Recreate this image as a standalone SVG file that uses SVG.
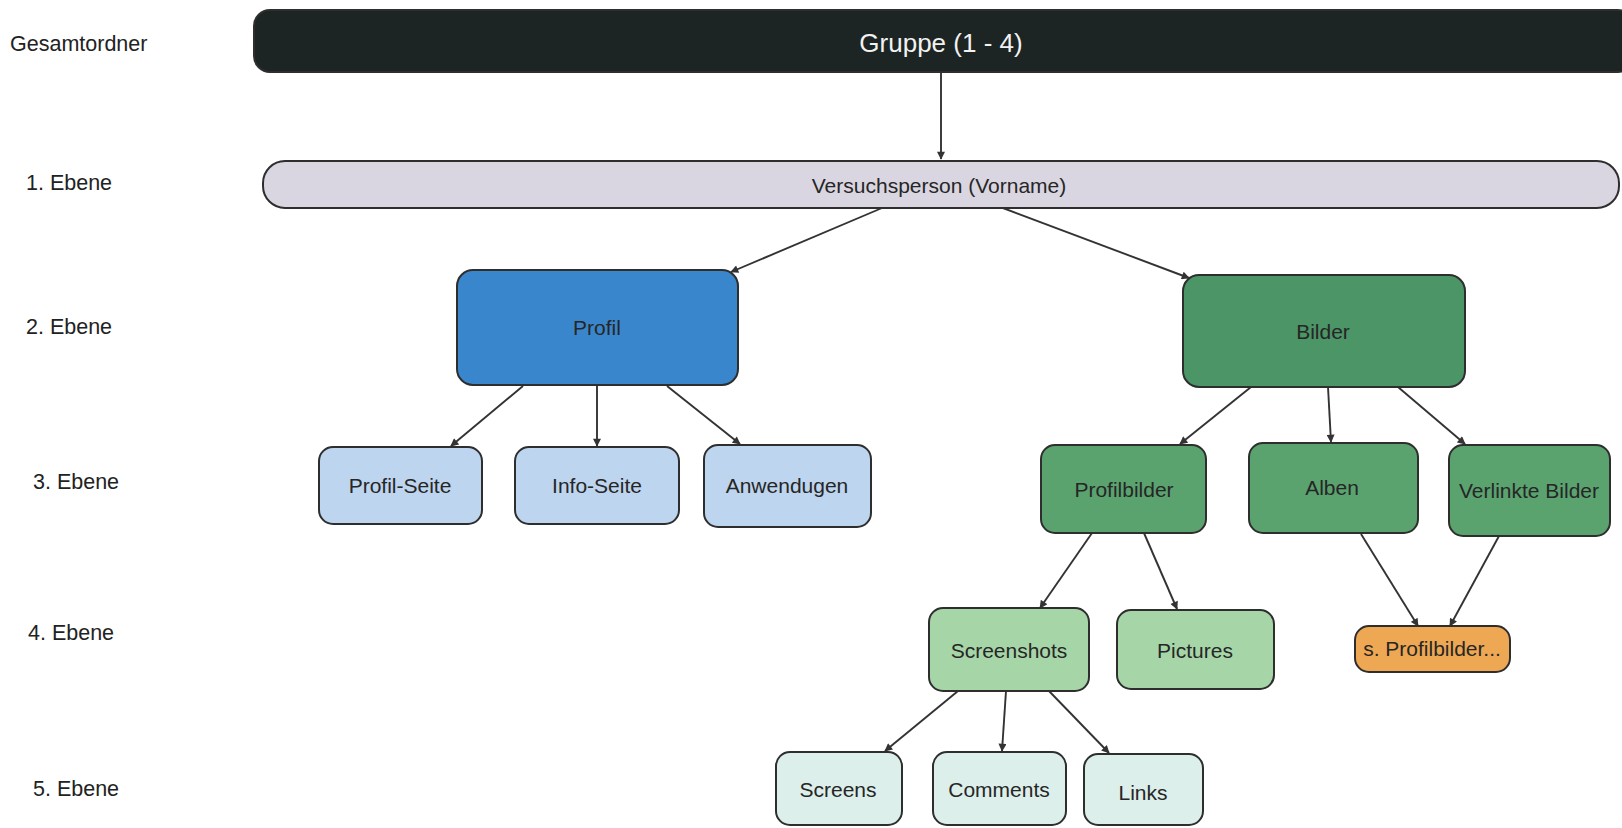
<svg xmlns="http://www.w3.org/2000/svg" width="1622" height="828" viewBox="0 0 1622 828">
<style>
.lvl{font-family:"Liberation Sans",Arial,sans-serif;font-size:21.5px;fill:#222}
.t{font-family:"Liberation Sans",Arial,sans-serif;font-size:21px;fill:#262626;text-anchor:middle}
.box{stroke:#2e2e2e;stroke-width:2}
.c line{stroke:#333;stroke-width:1.9;marker-end:url(#ah)}
</style>
<defs>
<marker id="ah" viewBox="0 0 10 10" refX="9" refY="5" markerWidth="9" markerHeight="8" markerUnits="userSpaceOnUse" orient="auto">
<path d="M0,0 L10,5 L0,10 z" fill="#333"/>
</marker>
</defs>
<rect width="1622" height="828" fill="#ffffff"/>
<g id="levels">
<text class="lvl" x="10" y="51">Gesamtordner</text>
<text class="lvl" x="26" y="190">1. Ebene</text>
<text class="lvl" x="26" y="334">2. Ebene</text>
<text class="lvl" x="33" y="489">3. Ebene</text>
<text class="lvl" x="28" y="640">4. Ebene</text>
<text class="lvl" x="33" y="796">5. Ebene</text>
</g>
<g class="c" id="connectors">
<line x1="941" y1="72" x2="941" y2="159"/>
<line x1="882" y1="208" x2="731" y2="272"/>
<line x1="1003" y1="208" x2="1189" y2="278"/>
<line x1="523" y1="386" x2="451" y2="446"/>
<line x1="597" y1="386" x2="597" y2="446"/>
<line x1="667" y1="386" x2="740" y2="444"/>
<line x1="1251" y1="387" x2="1180" y2="444"/>
<line x1="1328" y1="387" x2="1331" y2="442"/>
<line x1="1398" y1="387" x2="1465" y2="444"/>
<line x1="1092" y1="533" x2="1040" y2="608"/>
<line x1="1144" y1="533" x2="1177" y2="609"/>
<line x1="1361" y1="534" x2="1418" y2="626"/>
<line x1="1499" y1="536" x2="1450" y2="626"/>
<line x1="958" y1="691" x2="885" y2="751"/>
<line x1="1006" y1="691" x2="1002" y2="751"/>
<line x1="1049" y1="691" x2="1109" y2="753"/>
</g>
<g id="n-gruppe">
<rect class="box" x="254" y="10" width="1380" height="62" rx="16" fill="#1c2523"/>
<text x="941" y="52" font-family="'Liberation Sans',Arial,sans-serif" font-size="26" fill="#f2f2f2" text-anchor="middle">Gruppe (1 - 4)</text>
</g>
<g id="n-versuchsperson">
<rect class="box" x="263" y="161" width="1356" height="47" rx="22" fill="#d9d6e1"/>
<text class="t" x="939" y="193" font-size="22">Versuchsperson (Vorname)</text>
</g>
<g id="n-profil">
<rect class="box" x="457" y="270" width="281" height="115" rx="16" fill="#3a86cc"/>
<text class="t" x="597" y="335" fill="#1d4a80">Profil</text>
</g>
<g id="n-bilder">
<rect class="box" x="1183" y="275" width="282" height="112" rx="16" fill="#4c9566"/>
<text class="t" x="1323" y="339" fill="#1f4a2c">Bilder</text>
</g>
<g id="n-profilseite">
<rect class="box" x="319" y="447" width="163" height="77" rx="14" fill="#bdd5ee"/>
<text class="t" x="400" y="493">Profil-Seite</text>
</g>
<g id="n-infoseite">
<rect class="box" x="515" y="447" width="164" height="77" rx="14" fill="#bdd5ee"/>
<text class="t" x="597" y="493">Info-Seite</text>
</g>
<g id="n-anwendugen">
<rect class="box" x="704" y="445" width="167" height="82" rx="14" fill="#bdd5ee"/>
<text class="t" x="787" y="493">Anwendugen</text>
</g>
<g id="n-profilbilder">
<rect class="box" x="1041" y="445" width="165" height="88" rx="14" fill="#5aa36f"/>
<text class="t" x="1124" y="497" fill="#1f3a26">Profilbilder</text>
</g>
<g id="n-alben">
<rect class="box" x="1249" y="443" width="169" height="90" rx="14" fill="#5aa36f"/>
<text class="t" x="1332" y="495" fill="#1f3a26">Alben</text>
</g>
<g id="n-verlinkte">
<rect class="box" x="1449" y="445" width="161" height="91" rx="14" fill="#5aa36f"/>
<text class="t" x="1529" y="498" fill="#1f3a26" font-size="20.5">Verlinkte Bilder</text>
</g>
<g id="n-screenshots">
<rect class="box" x="929" y="608" width="160" height="83" rx="14" fill="#a6d6a8"/>
<text class="t" x="1009" y="658">Screenshots</text>
</g>
<g id="n-pictures">
<rect class="box" x="1117" y="610" width="157" height="79" rx="14" fill="#a6d6a8"/>
<text class="t" x="1195" y="658">Pictures</text>
</g>
<g id="n-sprofilbilder">
<rect class="box" x="1355" y="626" width="155" height="46" rx="14" fill="#eea853"/>
<text class="t" x="1432" y="656">s. Profilbilder...</text>
</g>
<g id="n-screens">
<rect class="box" x="776" y="752" width="126" height="73" rx="14" fill="#dcefea"/>
<text class="t" x="838" y="797">Screens</text>
</g>
<g id="n-comments">
<rect class="box" x="933" y="752" width="133" height="73" rx="14" fill="#dcefea"/>
<text class="t" x="999" y="797">Comments</text>
</g>
<g id="n-links">
<rect class="box" x="1084" y="754" width="119" height="71" rx="14" fill="#dcefea"/>
<text class="t" x="1143" y="800">Links</text>
</g>
</svg>
